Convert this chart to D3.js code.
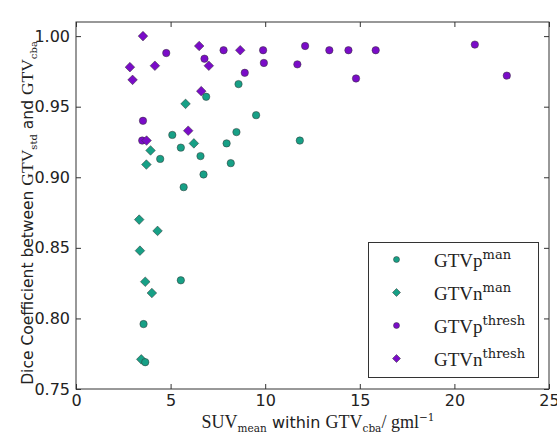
<!DOCTYPE html>
<html>
<head>
<meta charset="utf-8">
<script src="https://cdn.jsdelivr.net/npm/d3@7/dist/d3.min.js"></script>
<style>
  body { margin: 0; background: #fff; }
  .tick text { font-family: "DejaVu Sans", sans-serif; font-size: 16px; fill: #222; }
  .serif { font-family: "Liberation Serif", serif; }
  .small { font-family: "DejaVu Serif", serif; }
</style>
</head>
<body>
<svg width="557" height="437"></svg>
<script>
// SUV_mean vs Dice coefficient
const gtvpMan = [[6.88,0.957],[8.59,0.966],[9.52,0.944],[8.48,0.932],[7.96,0.924],[8.18,0.910],
  [5.09,0.930],[5.54,0.921],[6.58,0.915],[6.74,0.902],[5.69,0.893],[4.45,0.913],[11.83,0.926],
  [5.54,0.827],[3.57,0.796],[3.66,0.769]];
const gtvnMan = [[5.79,0.952],[6.23,0.924],[3.94,0.919],[3.72,0.909],[3.34,0.870],[4.31,0.862],
  [3.38,0.848],[3.66,0.826],[4.01,0.818],[3.45,0.771]];
const gtvpThresh = [[4.77,0.988],[6.79,0.984],[7.80,0.990],[8.92,0.974],[9.89,0.990],[9.93,0.981],
  [3.54,0.940],[3.50,0.926],[12.11,0.993],[11.70,0.980],[13.39,0.990],[14.40,0.990],[14.80,0.970],
  [15.84,0.990],[21.08,0.994],[22.77,0.972]];
const gtvnThresh = [[3.54,1.000],[2.85,0.978],[2.99,0.969],[4.17,0.979],[6.51,0.993],[7.02,0.979],
  [8.68,0.990],[6.62,0.961],[5.93,0.933],[3.73,0.926]];
const xTicks = [0, 5, 10, 15, 20, 25];
const yTicks = [0.75, 0.80, 0.85, 0.90, 0.95, 1.00];

const green = "#17a086", purple = "#7a0cc8";

const svg = d3.select("svg");
const mLeft = 76, mRight = 549, mTop = 22, mBottom = 389;

const x = d3.scaleLinear().domain([0, 25]).range([mLeft, mRight]);
const y = d3.scaleLinear().domain([0.75, 1.01]).range([mBottom, mTop]);

const diamond = r => `M0,${-r}L${r},0L0,${r}L${-r},0Z`;

// axes, ticks pointing inward like matplotlib classic
svg.append("g").attr("transform", `translate(0,${mBottom})`)
  .call(d3.axisBottom(x).tickValues(xTicks).tickFormat(d3.format("d")).tickSizeInner(-5).tickSizeOuter(0).tickPadding(6));
svg.append("g").attr("transform", `translate(0,${mTop})`)
  .call(d3.axisTop(x).tickValues(xTicks).tickFormat("").tickSizeInner(-5).tickSizeOuter(0));
svg.append("g").attr("transform", `translate(${mLeft},0)`)
  .call(d3.axisLeft(y).tickValues(yTicks).tickFormat(d3.format(".2f")).tickSizeInner(-5).tickSizeOuter(0).tickPadding(6));
svg.append("g").attr("transform", `translate(${mRight},0)`)
  .call(d3.axisRight(y).tickValues(yTicks).tickFormat("").tickSizeInner(-5).tickSizeOuter(0));
svg.selectAll(".domain").remove();
svg.selectAll(".tick line").attr("stroke", "#333");

svg.append("rect")
  .attr("x", mLeft).attr("y", mTop).attr("width", mRight - mLeft).attr("height", mBottom - mTop)
  .attr("fill", "none").attr("stroke", "#333").attr("stroke-width", 1);

// points
const plot = svg.append("g");
plot.selectAll(".pt").data(gtvpThresh).enter().append("circle")
  .attr("cx", d => x(d[0])).attr("cy", d => y(d[1])).attr("r", 3.7)
  .attr("fill", purple).attr("stroke", "#333").attr("stroke-width", 0.5);
plot.selectAll(".nt").data(gtvnThresh).enter().append("path")
  .attr("d", diamond(4.8)).attr("transform", d => `translate(${x(d[0])},${y(d[1])})`)
  .attr("fill", purple).attr("stroke", "#333").attr("stroke-width", 0.5);
plot.selectAll(".nm").data(gtvnMan).enter().append("path")
  .attr("d", diamond(4.8)).attr("transform", d => `translate(${x(d[0])},${y(d[1])})`)
  .attr("fill", green).attr("stroke", "#333").attr("stroke-width", 0.5);
plot.selectAll(".pm").data(gtvpMan).enter().append("circle")
  .attr("cx", d => x(d[0])).attr("cy", d => y(d[1])).attr("r", 3.7)
  .attr("fill", green).attr("stroke", "#333").attr("stroke-width", 0.5);

// legend
const legend = svg.append("g");
legend.append("rect").attr("x", 368.5).attr("y", 242.5).attr("width", 170).attr("height", 135)
  .attr("fill", "#fff").attr("stroke", "#333").attr("stroke-width", 1);
const items = [
  {base: "GTVp", sup: "man", color: green, shape: "circle"},
  {base: "GTVn", sup: "man", color: green, shape: "diamond"},
  {base: "GTVp", sup: "thresh", color: purple, shape: "circle"},
  {base: "GTVn", sup: "thresh", color: purple, shape: "diamond"}
];
items.forEach((it, i) => {
  const cy = 259.5 + i * 33;
  if (it.shape === "circle")
    legend.append("circle").attr("cx", 396.5).attr("cy", cy).attr("r", 3)
      .attr("fill", it.color).attr("stroke", "#333").attr("stroke-width", 0.5);
  else
    legend.append("path").attr("d", diamond(4)).attr("transform", `translate(396.5,${cy})`)
      .attr("fill", it.color).attr("stroke", "#333").attr("stroke-width", 0.5);
  const t = legend.append("text").attr("x", 434).attr("y", cy + 7).attr("fill", "#222");
  t.append("tspan").attr("class", "serif").attr("font-size", 19).text(it.base);
  t.append("tspan").attr("class", "small").attr("font-size", 13).attr("dy", -8).text(it.sup);
});

// axis labels
const xl = svg.append("text").attr("x", 318).attr("y", 428).attr("text-anchor", "middle")
  .attr("font-family", "DejaVu Sans, sans-serif").attr("font-size", 16).attr("fill", "#222");
xl.append("tspan").attr("class", "serif").attr("font-size", 18).text("SUV");
xl.append("tspan").attr("class", "small").attr("font-size", 10.5).attr("dy", 4).text("mean");
xl.append("tspan").attr("dy", -4).text(" within ");
xl.append("tspan").attr("class", "serif").attr("font-size", 18).text("GTV");
xl.append("tspan").attr("class", "small").attr("font-size", 10.5).attr("dy", 4).text("cba");
xl.append("tspan").attr("class", "serif").attr("font-size", 18).attr("dy", -4).text("/ gml");
xl.append("tspan").attr("class", "small").attr("font-size", 10.5).attr("dy", -7).text("\u22121");

const yl = svg.append("text").attr("transform", "translate(33,213) rotate(-90)")
  .attr("text-anchor", "middle")
  .attr("font-family", "DejaVu Sans, sans-serif").attr("font-size", 15.5).attr("fill", "#222");
yl.append("tspan").text("Dice Coefficient between ");
yl.append("tspan").attr("class", "serif").attr("font-size", 17.5).text("GTV");
yl.append("tspan").attr("class", "small").attr("font-size", 10).attr("dy", 4).text("std");
yl.append("tspan").attr("dy", -4).text(" and ");
yl.append("tspan").attr("class", "serif").attr("font-size", 17.5).text("GTV");
yl.append("tspan").attr("class", "small").attr("font-size", 10).attr("dy", 4).text("cba");
</script>
</body>
</html>
